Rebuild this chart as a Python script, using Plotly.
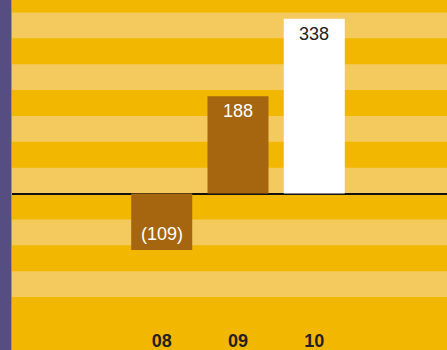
import plotly.graph_objects as go

# Yearly results (negative values shown in parentheses)
years = ["08", "09", "10"]
values = [-109, 188, 338]
bar_colors = ["#A5660F", "#A5660F", "#FFFFFF"]
label_colors = ["#FFFFFF", "#FFFFFF", "#222222"]
value_labels = ["(109)" if v < 0 else str(v) for v in values]

# Horizontal striping of the value axis
band_edges = [(-200, -150), (-100, -50), (0, 50), (100, 150), (200, 250), (300, 350)]

DARK_YELLOW = "#F2B700"
LIGHT_YELLOW = "#F4CA5F"
PURPLE = "#564E83"
FONT = "Liberation Sans, Arial, Helvetica, sans-serif"

x_pos = list(range(len(years)))

fig = go.Figure(
    go.Bar(
        x=x_pos,
        y=values,
        marker=dict(color=bar_colors, line=dict(width=0)),
        width=0.8,
        hoverinfo="skip",
    )
)

# value labels sitting inside the bar ends
for xi, v, lab, col in zip(x_pos, values, value_labels, label_colors):
    fig.add_annotation(
        x=xi, y=v, xref="x", yref="y",
        text=lab, showarrow=False,
        yanchor="middle", yshift=-15 if v >= 0 else 16,
        font=dict(family=FONT, size=18, color=col),
    )

shapes = [
    dict(type="rect", xref="paper", yref="y", x0=0, x1=1, y0=lo, y1=hi,
         fillcolor=LIGHT_YELLOW, line=dict(width=0), layer="below")
    for lo, hi in band_edges
]
# purple strip along the left edge
shapes.append(dict(type="rect", xref="paper", yref="paper", x0=0, x1=11 / 447, y0=-0.3, y1=1.05,
                   fillcolor=PURPLE, line=dict(width=0), layer="above"))
shapes.append(dict(type="line", xref="paper", yref="paper", x0=11.5 / 447, x1=11.5 / 447, y0=-0.3, y1=1.05,
                   line=dict(color="#9C8F84", width=1), layer="above"))

fig.update_layout(
    width=447,
    height=350,
    margin=dict(l=0, r=0, t=0, b=53),
    paper_bgcolor=DARK_YELLOW,
    plot_bgcolor=DARK_YELLOW,
    showlegend=False,
    shapes=shapes,
    xaxis=dict(
        range=[-2.12, 3.74],
        tickmode="array",
        tickvals=x_pos,
        ticktext=years,
        ticks="outside",
        ticklen=27,
        tickcolor="rgba(0,0,0,0)",
        showgrid=False,
        zeroline=False,
        showline=False,
        tickfont=dict(family=FONT, size=18, color="#222222", weight="bold"),
        fixedrange=True,
    ),
    yaxis=dict(
        range=[-200, 374],
        showticklabels=False,
        showgrid=False,
        zeroline=True,
        zerolinecolor="#111111",
        zerolinewidth=2,
        layer="above traces",
        fixedrange=True,
    ),
)

fig.write_html("out.html")
